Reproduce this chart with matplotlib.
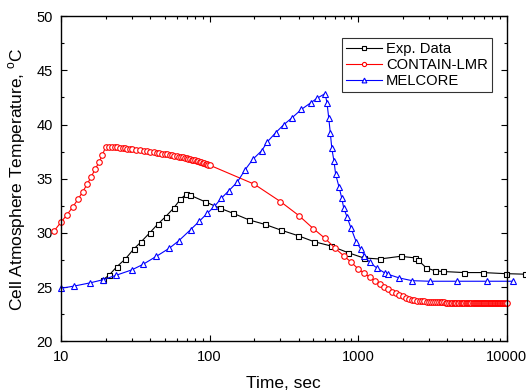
import matplotlib
matplotlib.use("Agg")
import matplotlib.pyplot as plt
from matplotlib.ticker import LogLocator, MultipleLocator, NullFormatter, FixedLocator

plt.rcParams['font.family'] = ['Liberation Sans', 'DejaVu Sans']

# Exp. Data
exp_time = [19.3, 21.2, 23.8, 27.1, 30.8, 34.7, 39.5, 44.7, 50.6, 57.4, 63.6, 69.9, 73.6,
            92.6, 117, 145, 185, 235, 305, 395, 505, 658, 851, 1089, 1401, 1935, 2427,
            2540, 2870, 3316, 3715, 5200, 6928, 9848, 13300]
exp_temp = [25.7, 26.15, 26.9, 27.6, 28.5, 29.2, 30.0, 30.8, 31.5, 32.3, 33.1, 33.6, 33.5,
            32.9, 32.3, 31.8, 31.2, 30.8, 30.25, 29.75, 29.2, 28.8, 28.2, 27.7, 27.6, 27.85, 27.7,
            27.5, 26.8, 26.5, 26.45, 26.35, 26.35, 26.25, 26.2]

# CONTAIN-LMR
contain_time = [9, 10, 11, 12, 13, 14, 15, 16, 17, 18, 19,
                20, 21, 22, 23, 24, 25, 26, 27, 28, 29, 30,
                32, 34, 36, 38, 40, 42, 44, 46, 48, 50, 52, 54, 56, 58, 60, 62, 64, 66,
                68, 70, 72, 74, 76, 78, 80, 82, 84, 86, 88, 90, 92, 94, 96, 98, 100,
                200, 300, 400, 500, 600, 700, 800, 900, 1000, 1100, 1200, 1300, 1400,
                1500, 1600, 1700, 1800, 1900, 2000, 2100, 2200, 2300, 2400, 2500, 2600,
                2700, 2800, 2900, 3000, 3100, 3200, 3300, 3400, 3500, 3600, 3700, 3800,
                3900, 4000, 4100, 4200, 4300, 4400, 4500, 4600, 4700, 4800, 4900, 5000,
                5100, 5200, 5300, 5400, 5500, 5600, 5700, 5800, 5900, 6000, 6100, 6200,
                6300, 6400, 6500, 6600, 6700, 6800, 6900, 7000, 7100, 7200, 7300, 7400,
                7500, 7600, 7700, 7800, 7900, 8000, 8100, 8200, 8300, 8400, 8500, 8600,
                8700, 8800, 8900, 9000, 9100, 9200, 9300, 9400, 9500, 9600, 9700, 9800,
                9900, 10000]
contain_temp = [30.2, 31.0, 31.7, 32.4, 33.1, 33.8, 34.5, 35.2, 35.9, 36.5, 37.2,
                37.95, 37.95, 37.95, 37.93, 37.9, 37.87, 37.84, 37.8, 37.77, 37.74, 37.71,
                37.66, 37.61, 37.56, 37.52, 37.48, 37.44, 37.4, 37.36, 37.32, 37.28, 37.24,
                37.2, 37.17, 37.13, 37.09, 37.05, 37.01, 36.97, 36.93, 36.89, 36.85, 36.81,
                36.77, 36.73, 36.69, 36.65, 36.6, 36.55, 36.5, 36.46, 36.42, 36.38, 36.34,
                36.3, 36.26,
                34.5, 32.9, 31.6, 30.4, 29.5, 28.6, 27.9, 27.3, 26.7, 26.3, 25.9, 25.6, 25.3,
                25.0, 24.8, 24.6, 24.45, 24.3, 24.15, 24.0, 23.92, 23.85, 23.8, 23.77, 23.75,
                23.72, 23.7, 23.68, 23.67, 23.66, 23.65, 23.64, 23.63, 23.62, 23.61, 23.6, 23.59,
                23.58, 23.57, 23.57, 23.56, 23.56, 23.55, 23.55, 23.54, 23.54, 23.53, 23.53, 23.53,
                23.52, 23.52, 23.52, 23.52, 23.51, 23.51, 23.51, 23.51, 23.51, 23.51, 23.5, 23.5,
                23.5, 23.5, 23.5, 23.5, 23.5, 23.5, 23.5, 23.5, 23.5, 23.5, 23.5, 23.5,
                23.5, 23.5, 23.5, 23.5, 23.5, 23.5, 23.5, 23.5, 23.5, 23.5, 23.5, 23.5,
                23.5, 23.5, 23.5, 23.5, 23.5, 23.5, 23.5, 23.5, 23.5, 23.5, 23.5, 23.5,
                23.5, 23.5]

# MELCORE
melcore_time = [10, 12.2, 15.7, 19.3, 23.5, 30, 35.6, 43.9, 53.7, 62.3, 74.5, 85.6, 96.4,
                108, 120, 135, 154, 173, 196, 225, 245, 279, 317, 358, 416, 480, 527, 600,
                618, 635, 651, 666, 689, 707, 746, 776, 801, 842, 897, 971, 1045, 1104,
                1195, 1345, 1520, 1585, 1898, 2318, 3039, 4655, 7365, 11100]
melcore_temp = [24.9, 25.1, 25.4, 25.7, 26.1, 26.6, 27.1, 27.85, 28.6, 29.3, 30.3, 31.1, 31.8,
                32.45, 33.2, 33.9, 34.7, 35.8, 36.8, 37.6, 38.4, 39.25, 40.0, 40.6, 41.4, 42.0,
                42.4, 42.85, 42.0, 40.6, 39.2, 37.8, 36.6, 35.4, 34.2, 33.25, 32.3, 31.5, 30.45,
                29.2, 28.5, 27.9, 27.3, 26.75, 26.3, 26.2, 25.85, 25.6, 25.55, 25.55, 25.55, 25.55]

fig = plt.figure(figsize=(5.26, 3.92), dpi=100)
ax = fig.add_axes([0.116, 0.129, 0.847, 0.83])

ax.plot(exp_time, exp_temp, color='black', lw=0.8, marker='s', ms=3.6,
        mfc='white', mec='black', mew=0.8, label='Exp. Data', clip_on=False)
ax.plot(contain_time, contain_temp, color='red', lw=0.8, marker='o', ms=4.0,
        mfc='white', mec='red', mew=0.8, label='CONTAIN-LMR', clip_on=False)
ax.plot(melcore_time, melcore_temp, color='blue', lw=0.8, marker='^', ms=4.6,
        mfc='white', mec='blue', mew=0.8, label='MELCORE', clip_on=False)

ax.set_xscale('log')
ax.set_xlim(10, 10000)
ax.set_ylim(20, 50)
ax.xaxis.set_major_locator(FixedLocator([10, 100, 1000, 10000]))
ax.xaxis.set_major_formatter(plt.FuncFormatter(lambda v, p: '%d' % v))
ax.xaxis.set_minor_locator(LogLocator(base=10, subs=range(2, 10)))
ax.xaxis.set_minor_formatter(NullFormatter())
ax.yaxis.set_major_locator(MultipleLocator(5))
ax.yaxis.set_minor_locator(MultipleLocator(2.5))

ax.tick_params(which='both', direction='in', top=True, right=True, labelsize=10.5,
               width=0.8, color='black', pad=6)
ax.tick_params(which='major', length=4)
ax.tick_params(which='minor', length=2.5)
for s in ax.spines.values():
    s.set_linewidth(1.0)

ax.set_xlabel('Time, sec', fontsize=12.5, labelpad=9)
ax.set_ylabel('Cell Atmosphere Temperature, $^{\\mathregular{o}}$C', fontsize=12.5, labelpad=6)

leg = ax.legend(loc='upper right', bbox_to_anchor=(0.985, 0.955), fontsize=10.6,
                frameon=True, fancybox=False, edgecolor='black', handlelength=2.4,
                handletextpad=0.3, borderpad=0.3, labelspacing=0.12, markerscale=0.75)
leg.get_frame().set_linewidth(0.8)

fig.savefig('out.png', dpi=100)
